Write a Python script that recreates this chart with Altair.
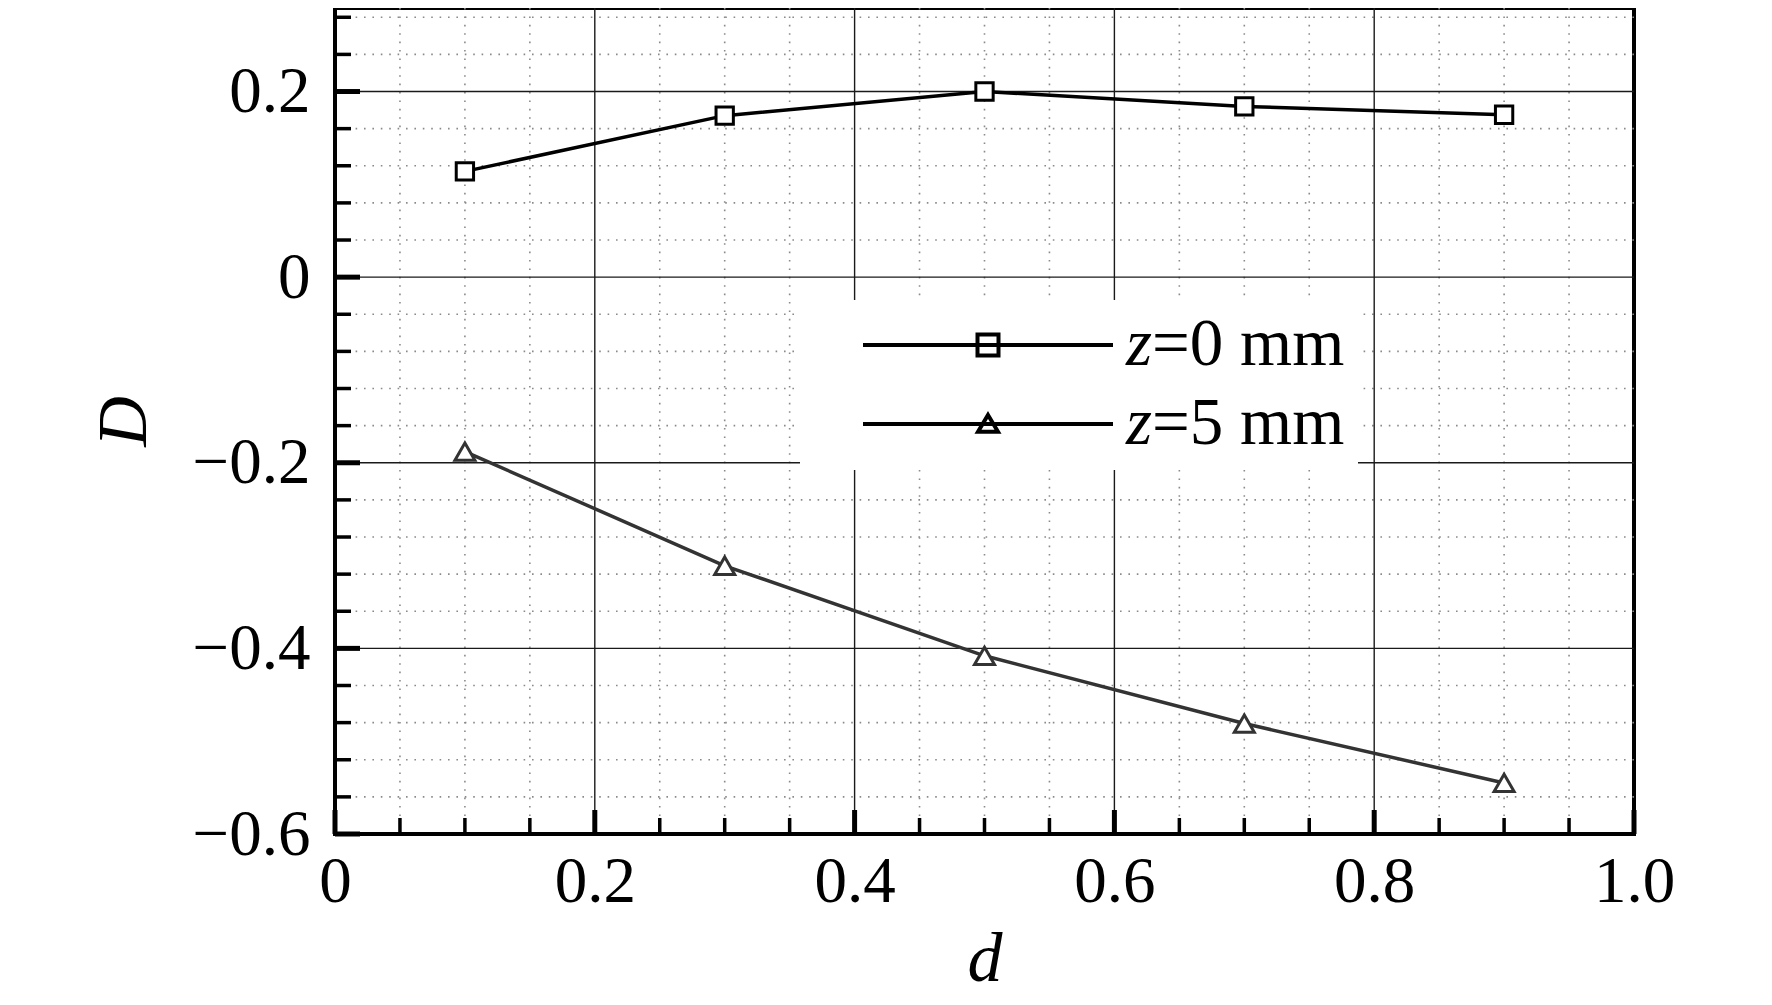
import altair as alt
import pandas as pd

# ---- data ----
d_values = [0.1, 0.3, 0.5, 0.7, 0.9]
D_z0 = [0.114, 0.174, 0.200, 0.184, 0.175]
D_z5 = [-0.188, -0.311, -0.408, -0.481, -0.545]
series_names = ["z=0 mm", "z=5 mm"]
series_rest = [s[1:] for s in series_names]  # "=0 mm", "=5 mm" (the part after the italic z)

x_ticks_major = [0.0, 0.2, 0.4, 0.6, 0.8, 1.0]
x_ticks_minor = [0.05, 0.1, 0.15, 0.25, 0.3, 0.35, 0.45, 0.5, 0.55, 0.65, 0.7, 0.75, 0.85, 0.9, 0.95]
y_ticks_major = [-0.6, -0.4, -0.2, 0.0, 0.2]
y_ticks_minor = [-0.56, -0.52, -0.48, -0.44, -0.36, -0.32, -0.28, -0.24, -0.16, -0.12, -0.08, -0.04,
                 0.04, 0.08, 0.12, 0.16, 0.24, 0.28]
x_grid_major = [0.2, 0.4, 0.6, 0.8]
y_grid_major = [-0.4, -0.2, 0.0, 0.2]

FONT = "Liberation Serif"
W, H = 1299, 826

data = pd.DataFrame({
    "d": d_values * 2,
    "D": D_z0 + D_z5,
    "series": [series_names[0]] * 5 + [series_names[1]] * 5,
})

xscale = alt.Scale(domain=[0, 1], nice=False, zero=False)
yscale = alt.Scale(domain=[-0.6, 0.29], nice=False, zero=False)

xaxis = alt.Axis(values=x_ticks_major, grid=False, ticks=False, tickSize=0, domain=False,
                 labelExpr="datum.value == 0 ? '0' : format(datum.value, '.1f')",
                 labelFont=FONT, labelFontSize=65, labelColor="black", labelPadding=16,
                 labelFlush=False, labelOverlap=False,
                 title="d", titleFont=FONT, titleFontSize=70, titleFontStyle="italic",
                 titleFontWeight="normal", titleColor="black", titlePadding=11)
yaxis = alt.Axis(values=y_ticks_major, grid=False, ticks=False, tickSize=0, domain=False,
                 labelExpr="datum.value == 0 ? '0' : format(datum.value, '.1f')",
                 labelFont=FONT, labelFontSize=65, labelColor="black", labelPadding=25,
                 labelFlush=False, labelOverlap=False,
                 title="D", titleFont=FONT, titleFontSize=70, titleFontStyle="italic",
                 titleFontWeight="normal", titleColor="black", titlePadding=32)


def X(field):
    return alt.X(field, type="quantitative", scale=xscale, axis=xaxis)


def Y(field):
    return alt.Y(field, type="quantitative", scale=yscale, axis=yaxis)


dfx_minor = pd.DataFrame({"xv": x_ticks_minor})
dfy_minor = pd.DataFrame({"yv": y_ticks_minor})
dfx_major = pd.DataFrame({"xv": x_ticks_major})
dfy_major = pd.DataFrame({"yv": y_ticks_major})
dfx_grid = pd.DataFrame({"xv": x_grid_major})
dfy_grid = pd.DataFrame({"yv": y_grid_major})

dot = dict(color="#8a8a8a", strokeWidth=1.6, strokeDash=[1.6, 6.8])
grid_x_minor = alt.Chart(dfx_minor).mark_rule(**dot).encode(x=X("xv"))
grid_y_minor = alt.Chart(dfy_minor).mark_rule(**dot).encode(y=Y("yv"))
grid_x_major = alt.Chart(dfx_grid).mark_rule(color="#1a1a1a", strokeWidth=1.4).encode(x=X("xv"))
grid_y_major = alt.Chart(dfy_grid).mark_rule(color="#1a1a1a", strokeWidth=1.4).encode(y=Y("yv"))

tick_x_minor = alt.Chart(dfx_minor).mark_rule(color="black", strokeWidth=3.5).encode(
    x=X("xv"), y=alt.value(H), y2=alt.value(H - 16))
tick_x_major = alt.Chart(dfx_major).mark_rule(color="black", strokeWidth=5).encode(
    x=X("xv"), y=alt.value(H), y2=alt.value(H - 24))
tick_y_minor = alt.Chart(dfy_minor).mark_rule(color="black", strokeWidth=3.5).encode(
    y=Y("yv"), x=alt.value(0), x2=alt.value(16))
tick_y_major = alt.Chart(dfy_major).mark_rule(color="black", strokeWidth=5).encode(
    y=Y("yv"), x=alt.value(0), x2=alt.value(25))

lines = alt.Chart(data).mark_line(strokeWidth=3.5).encode(
    x=X("d"), y=Y("D"),
    color=alt.Color("series:N", scale=alt.Scale(domain=series_names, range=["black", "#333333"]), legend=None),
)

pts_sq = alt.Chart(data).transform_filter(alt.datum.series == series_names[0]).mark_point(
    shape="square", size=300, filled=True, fill="white", stroke="black", strokeWidth=3, opacity=1
).encode(x=X("d"), y=Y("D"))
pts_tri = alt.Chart(data).transform_filter(alt.datum.series == series_names[1]).mark_point(
    shape="triangle-up", size=400, filled=True, fill="white", stroke="#333333", strokeWidth=3, opacity=1
).encode(x=X("d"), y=Y("D"))

# legend symbols: a line with the marker in the middle (unit box -1..1, drawn 250 px wide)
sym_square = "M-1,0L1,0M-0.084,-0.084L0.084,-0.084L0.084,0.084L-0.084,0.084Z"
sym_tri = "M-1,0L1,0M0,-0.072L0.08,0.062L-0.08,0.062Z"

LEG = dict(orient="none", legendX=465, legendY=292, title=None, padding=13,
           symbolSize=62500, symbolStrokeWidth=4, symbolStrokeColor="black",
           symbolFillColor="white", symbolOffset=48, labelFont=FONT, labelFontSize=67,
           labelColor="black", labelLimit=0, clipHeight=64, rowPadding=12,
           labelBaseline="middle")

# legend B (drawn first): white box + upright "=0 mm" / "=5 mm", invisible symbols
legB_df = pd.DataFrame({"rest": series_rest})
legend_b = alt.Chart(legB_df).mark_point(opacity=0, size=62500, filled=False).encode(
    shape=alt.Shape("rest:N", scale=alt.Scale(domain=series_rest, range=[sym_square, sym_tri]),
                    legend=alt.Legend(fillColor="white", symbolOpacity=0, labelOffset=37, **LEG)),
)
# legend A (drawn on top): line+marker symbols and the italic "z"
legA_df = pd.DataFrame({"label": series_names})
legend_a = alt.Chart(legA_df).mark_point(opacity=0, size=62500, filled=False).encode(
    shape=alt.Shape("label:N", scale=alt.Scale(domain=series_names, range=[sym_square, sym_tri]),
                    legend=alt.Legend(symbolOpacity=1, labelOffset=11, labelFontStyle="italic",
                                      labelExpr="substring(datum.label, 0, 1)", **LEG)),
)

chart = alt.layer(
    grid_x_minor, grid_y_minor, grid_x_major, grid_y_major,
    tick_x_minor, tick_x_major, tick_y_minor, tick_y_major,
    lines, pts_sq, pts_tri, legend_b, legend_a,
).resolve_scale(shape="independent").properties(
    width=W, height=H,
    padding={"left": 327, "top": 0, "right": 130, "bottom": 163},
    autosize=alt.AutoSizeParams(type="none"),
    background="white",
).configure(font=FONT).configure_view(stroke="black", strokeWidth=4)

chart.save("out.html", embed_options={"renderer": "svg", "actions": False})
